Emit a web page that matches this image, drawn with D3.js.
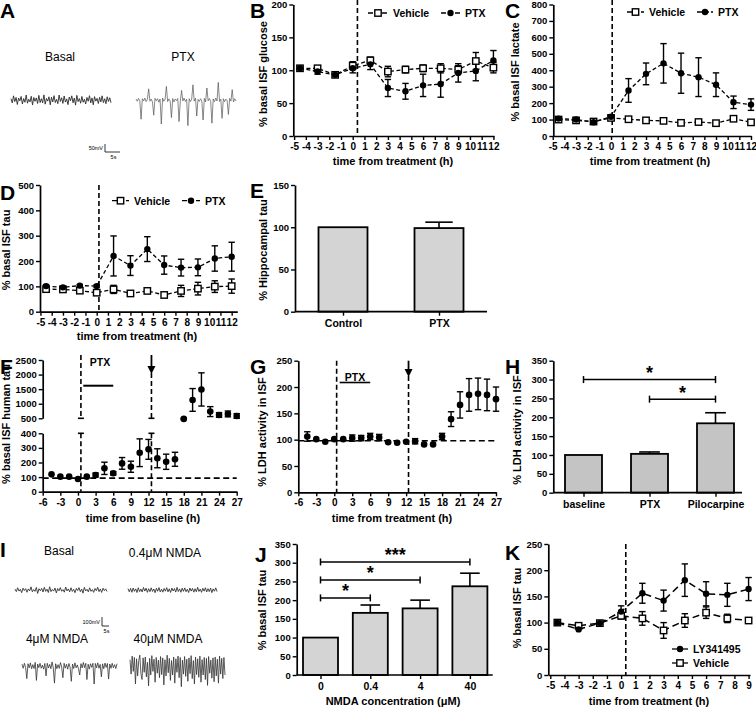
<!DOCTYPE html>
<html><head><meta charset="utf-8">
<script src="https://cdn.jsdelivr.net/npm/d3@7"></script>
<style>
body{margin:0;background:#fff;}
svg{display:block;}
</style></head><body>
<script>
// ================= DATA =================
// Panel A traces (mV)
const traceBasalA = [8,-18,26,-10,16,-28,12,-5,22,-25,9,-14,31,-20,5,-12,23,-31,16,-8,13,-22,29,-16,8,-18,32,-26,10,-7,20,-30,17,-12,27,-16,4,-23,31,-9,14,-21,25,-13,7,-29,18,-5,26,-17,12,-32,29,-10,9,-20,22,-14,5,-25,16,-8,27,-18,13,-30,21,-7,10,-22,17,-12,26,-16,8,-23,20,-9,14,-17];
const tracePTXA = [6,-8,10,-4,-120,8,-6,12,-10,4,70,-8,6,-12,-95,10,-5,8,-14,6,-150,12,-8,5,85,-10,7,-6,-110,9,-12,6,-4,10,-135,-8,60,-6,12,-9,5,-160,8,-10,6,95,-7,11,-100,4,-9,8,-6,-125,10,-12,75,-5,9,-8,-145,7,-10,12,-6,110,-9,5,-115,8,-11,6,-4,-90,10,-7,65,-12,8,-6];
// Panel I traces (mV)
const traceBasalI = [10,-18,25,-12,8,-30,20,-6,15,-25,12,-10,35,-20,5,-15,28,-38,14,-8,18,-22,30,-15,9,-28,36,-18,6,-12,22,-32,16,-9,27,-14,4,-24,33,-10,12,-20,25,-16,7,-30,18,-6,26,-19,10,-35,29,-11,8,-21,24,-15,5,-26,17,-8,31,-18,11,-27,20,-7,13,-16];
const trace04I = [15,-20,18,-25,22,-15,12,-28,25,-18,10,-22,28,-12,20,-26,14,-19,24,-16,11,-30,19,-14,27,-21,9,-24,17,-13,26,-20,13,-27,21,-11,16,-23,29,-17,12,-25,20,-15,23,-19,8,-28,22,-12,18,-24,14,-20,30,-16,10,-26,19,-13,25,-22,15,-18,21,-29,12,-14,24,-17];
const trace4I = [20,-25,30,-15,-140,25,-20,35,-30,15,-28,40,-160,22,-18,30,-25,10,-35,28,-110,30,-22,18,-30,45,-20,-190,25,-30,15,-26,38,-12,-130,30,-24,20,-35,28,-15,-170,22,-28,35,-20,12,-30,-100,26,-22,40,-18,30,-150,20,-34,25,-15,30,-200,28,-20,35,-25,18,-120,24,-30,32,-16,28,-145,22,-26,30,-20,15,-28,25];
const trace40I = [70,-90,110,-60,95,-200,80,-110,60,120,-85,-150,90,-70,100,-120,40,-220,85,-100,115,-60,75,-180,95,-80,65,-130,105,-95,90,-210,70,-110,120,-75,85,-160,60,-100,100,-190,80,-70,110,-130,95,-230,65,-90,105,-115,75,-170,90,-85,115,-140,60,-200,100,-95,80,-125,110,-180,70,-100,95,-150,85,-215,105,-80,65,-135,90,-175,100,-110,75,-190,110,-90,85,-140,95,-100];

// Panels B, C, D (time from treatment, h)
const timeBCD = [-4.5,-3,-1.5,0,1.5,3,4.5,6,7.5,9,10.5,12];
const hourTicks12 = [-5,-4,-3,-2,-1,0,1,2,3,4,5,6,7,8,9,10,11,12];
const glucoseVehicle    = [103,103,93,107,115,98,101,103,103,101,114,104];
const glucoseVehicleErr = [0,0,0,6,5,8,5,5,7,6,13,8];
const glucosePTX        = [103,98,93,103,109,73,68,77,79,96,99,115];
const glucosePTXErr     = [0,4,0,7,8,13,12,17,20,14,15,15];
const glucoseTicks = [0,50,100,150,200];
const lactateVehicle    = [100,95,88,110,102,95,92,80,85,78,105,83];
const lactateVehicleErr = [0,0,0,10,8,6,6,6,6,6,10,8];
const lactatePTX        = [106,100,84,117,277,378,442,382,358,312,205,191];
const lactatePTXErr     = [0,0,0,10,72,66,120,122,118,72,38,35];
const lactateTicks = [0,100,200,300,400,500,600,700,800];
const tauVehicle    = [89,88,83,75,88,72,82,66,82,91,99,101];
const tauVehicleErr = [6,6,6,10,16,10,5,10,22,25,23,28];
const tauPTX        = [101,96,103,101,220,182,247,184,174,175,210,217];
const tauPTXErr     = [6,5,4,5,79,39,49,36,33,33,50,57];
const tauTicks = [0,100,200,300,400,500];

// Panel E
const hippoCategories = ["Control","PTX"];
const hippoTau = [100,99];
const hippoTauErr = [0,7];
const hippoTicks = [0,50,100,150];

// Panels F, G (time, h)
const timeFG = [-4.5,-3,-1.5,0,1.5,3,4.5,6,7.5,9,10.5,12,13.5,15,16.5,18,19.5,21,22.5,24,25.5,27];
const hourTicks27 = [-6,-3,0,3,6,9,12,15,18,21,24,27];
const humanTau    = [119,103,103,87,103,114,160,126,194,171,267,290,229,205,222,480,1130,1490,730,615,650,580];
const humanTauErr = [0,0,0,0,0,14,42,12,40,38,95,68,65,52,48,20,390,570,170,80,100,80];
const humanTauTicksLow = [0,100,200,300,400];
const humanTauTicksHigh = [500,1000,1500,2000,2500];
const ldhTime    = [106,101,96,101,101,103,103,106,104,95,94,96,97,91,91,106,139,166,185,187,185,177];
const ldhTimeErr = [9,0,0,0,0,6,5,6,6,0,0,0,5,0,0,6,14,25,31,30,30,23];
const ldhTicks = [0,50,100,150,200,250];
const ptxPeriod = [0.9,6];

// Panel H
const ldhCategories = ["baseline","PTX","Pilocarpine"];
const ldhMeans = [100,103,184];
const ldhErr = [0,5,28];
const ldhBarTicks = [0,50,100,150,200,250,300,350];
const hSigFrom = ["baseline","PTX"];
const hSigTo = ["Pilocarpine","Pilocarpine"];
const hSigLevel = [300,248];
const hSigLabel = ["*","*"];

// Panel J
const nmdaCategories = ["0","0.4","4","40"];
const nmdaTau = [100,166,178,237];
const nmdaErr = [0,21,22,35];
const nmdaTicks = [0,50,100,150,200,250,300,350];
const jSigFrom = ["0","0","0"];
const jSigTo = ["40","4","0.4"];
const jSigLevel = [302,254,206];
const jSigLabel = ["***","*","*"];

// Panel K
const timeK = [-4.5,-3,-1.5,0,1.5,3,4.5,6,7.5,9];
const hourTicks9 = [-5,-4,-3,-2,-1,0,1,2,3,4,5,6,7,8,9];
const lyTau    = [100,87,99,121,156,142,181,155,153,164];
const lyTauErr = [0,0,0,11,19,20,31,23,22,22];
const vehTauK    = [100,94,99,113,108,85,104,119,108,104];
const vehTauKErr = [0,0,0,6,13,15,13,11,8,5];
const kTicks = [0,50,100,150,200,250];

// ================= DRAWING =================
const FONT = '"Liberation Sans", Arial, Helvetica, sans-serif';
const svg = d3.select("body").append("svg").attr("width",756).attr("height",707)
  .attr("font-family",FONT);

function txt(x,y,s,size,opt={}){
  const t = svg.append("text").attr("x",x).attr("y",y).text(s)
    .attr("font-size",size).attr("font-weight",opt.weight||"bold")
    .attr("text-anchor",opt.anchor||"start").attr("fill","#000");
  if(opt.rotate) t.attr("transform",`rotate(-90,${x},${y})`);
  if(opt.dy) t.attr("dy",opt.dy);
  return t;
}
function letter(x,y,s){ txt(x,y,s,21); }
function yTitle(x,y,s){ txt(x,y,s,11,{anchor:"middle",rotate:true,dy:"0.35em"}); }
function xTitle(x,y,s){ txt(x,y,s,11,{anchor:"middle"}); }

function styleAxis(g,size){
  g.attr("font-family",FONT).attr("font-size",size||10).attr("font-weight","bold");
  g.select(".domain").attr("stroke","#000").attr("stroke-width",1.7);
  g.selectAll(".tick line").attr("stroke","#000").attr("stroke-width",1.4);
  g.selectAll(".tick text").attr("fill","#000");
}
function axisL(x,scale,ticks){
  const g = svg.append("g").attr("transform",`translate(${x},0)`)
    .call(d3.axisLeft(scale).tickValues(ticks).tickSize(4).tickPadding(2).tickSizeOuter(0).tickFormat(d=>String(d)));
  styleAxis(g,9.5); return g;
}
function axisB(y,scale,ticks){
  const g = svg.append("g").attr("transform",`translate(0,${y})`)
    .call(d3.axisBottom(scale).tickValues(ticks).tickSize(4).tickPadding(3).tickSizeOuter(0).tickFormat(d=>String(d)));
  styleAxis(g,10); return g;
}
function axisCat(y,scale,x0,x1){
  const g = svg.append("g").attr("transform",`translate(0,${y})`)
    .call(d3.axisBottom(scale).tickSize(4).tickPadding(4).tickSizeOuter(0));
  styleAxis(g,10.5);
  g.select(".domain").remove();
  g.append("line").attr("x1",x0).attr("x2",x1).attr("stroke","#000").attr("stroke-width",1.7);
  return g;
}
function hline(x0,x1,y,dash,w){
  return svg.append("line").attr("x1",x0).attr("x2",x1).attr("y1",y).attr("y2",y)
    .attr("stroke","#000").attr("stroke-width",w||1.6).attr("stroke-dasharray",dash||null);
}
function vline(x,y0,y1,dash,w){
  return svg.append("line").attr("x1",x).attr("x2",x).attr("y1",y0).attr("y2",y1)
    .attr("stroke","#000").attr("stroke-width",w||1.6).attr("stroke-dasharray",dash||null);
}
function arrowDown(x,y0,y1){
  vline(x,y0,y1-7,null,1.8);
  svg.append("path").attr("d",`M${x-4},${y1-8} L${x+4},${y1-8} L${x},${y1} Z`).attr("fill","#000");
}
function markers(g,data,xS,yS,type,r){
  if(type==="dot"){
    g.append("g").selectAll("circle").data(data).join("circle")
      .attr("cx",d=>xS(d.x)).attr("cy",d=>yS(d.v)).attr("r",r||3.2).attr("fill","#000");
  } else {
    const s = (r||3.2);
    g.append("g").selectAll("rect").data(data).join("rect")
      .attr("x",d=>xS(d.x)-s).attr("y",d=>yS(d.v)-s).attr("width",2*s).attr("height",2*s)
      .attr("fill","#fff").attr("stroke","#000").attr("stroke-width",1.4);
  }
}
function errorBars(g,data,xS,yS,cap){
  const d2 = data.filter(d=>d.e>0);
  const eg = g.append("g").attr("stroke","#000").attr("stroke-width",1.4);
  eg.append("g").selectAll("line").data(d2).join("line")
    .attr("x1",d=>xS(d.x)).attr("x2",d=>xS(d.x)).attr("y1",d=>yS(d.v-d.e)).attr("y2",d=>yS(d.v+d.e));
  eg.append("g").selectAll("line").data(d2).join("line")
    .attr("x1",d=>xS(d.x)-cap).attr("x2",d=>xS(d.x)+cap).attr("y1",d=>yS(d.v+d.e)).attr("y2",d=>yS(d.v+d.e));
  eg.append("g").selectAll("line").data(d2).join("line")
    .attr("x1",d=>xS(d.x)-cap).attr("x2",d=>xS(d.x)+cap).attr("y1",d=>yS(d.v-d.e)).attr("y2",d=>yS(d.v-d.e));
}
function timeSeries(xS,yS,t,list,opt={}){
  const g = svg.append("g");
  const sets = list.map(s=>t.map((x,i)=>({x, v:s.v[i], e:s.e[i]})));
  list.forEach((s,k)=>{
    if(s.dash!==undefined){
      g.append("path").datum(sets[k]).attr("d",d3.line().x(d=>xS(d.x)).y(d=>yS(d.v)))
        .attr("fill","none").attr("stroke","#000").attr("stroke-width",opt.lw||1.3).attr("stroke-dasharray",s.dash);
    }
  });
  list.forEach((s,k)=>errorBars(g,sets[k],xS,yS,opt.cap||3.2));
  list.forEach((s,k)=>markers(g,sets[k],xS,yS,s.type,opt.r));
}
function legendItem(x0,x1,y,type,label,dash){
  hline(x0,x1,y,dash,1.3);
  const g = svg.append("g");
  markers(g,[{x:(x0+x1)/2,v:y}],d=>d,d=>d,type);
  txt(x1+5,y+3.8,label,10.5);
}
function trace(vals,x0,x1,yc,mvPerPx,color,w){
  const xs = d3.scaleLinear().domain([0,vals.length-1]).range([x0,x1]);
  const ys = d3.scaleLinear().domain([-mvPerPx,mvPerPx]).range([yc+1,yc-1]);
  svg.append("path").datum(vals).attr("d",d3.line().x((d,i)=>xs(i)).y(d=>ys(d)))
    .attr("fill","none").attr("stroke",color).attr("stroke-width",w||0.9).attr("stroke-linejoin","miter");
}
function scaleBar(x,y,hpx,wpx,vLabel,tLabel){
  svg.append("path").attr("d",`M${x},${y-hpx} L${x},${y} L${x+wpx},${y}`).attr("fill","none").attr("stroke","#000").attr("stroke-width",0.8);
  txt(x-2,y-hpx/2+2,vLabel,5.5,{weight:"normal",anchor:"end"});
  txt(x+wpx/2+1,y+7,tLabel,5.5,{weight:"normal",anchor:"middle"});
}
function bars(xS,yS,cats,vals,errs,bw,fill){
  const g = svg.append("g");
  const data = cats.map((c,i)=>({c,v:vals[i],e:errs[i]}));
  g.append("g").selectAll("line").data(data.filter(d=>d.e>0)).join("line")
    .attr("x1",d=>xS(d.c)).attr("x2",d=>xS(d.c)).attr("y1",d=>yS(d.v)).attr("y2",d=>yS(d.v+d.e))
    .attr("stroke","#000").attr("stroke-width",1.6);
  g.append("g").selectAll("line").data(data.filter(d=>d.e>0)).join("line")
    .attr("x1",d=>xS(d.c)-bw*0.28).attr("x2",d=>xS(d.c)+bw*0.28).attr("y1",d=>yS(d.v+d.e)).attr("y2",d=>yS(d.v+d.e))
    .attr("stroke","#000").attr("stroke-width",1.6);
  g.append("g").selectAll("rect").data(data).join("rect")
    .attr("x",d=>xS(d.c)-bw/2).attr("width",bw).attr("y",d=>yS(d.v)).attr("height",d=>yS(0)-yS(d.v))
    .attr("fill",fill).attr("stroke","#000").attr("stroke-width",1.8);
}
function sigBrackets(xS,yS,from,to,level,label,starSize){
  level.forEach((lv,i)=>{
    const x0 = xS(from[i]), x1 = xS(to[i]), y = yS(lv);
    hline(x0,x1,y,null,1.5);
    vline(x0,y-3.5,y+3.5,null,1.5);
    vline(x1,y-3.5,y+3.5,null,1.5);
    txt((x0+x1)/2,y-0.5,label[i],starSize,{anchor:"middle"});
  });
}

// ---------- Panel A
letter(0,18,"A");
txt(60,61,"Basal",12,{weight:"normal",anchor:"middle"});
txt(183,61,"PTX",12,{weight:"normal",anchor:"middle"});
trace(traceBasalA,11,111,100,6.25,"#2a2a2a",0.9);
trace(tracePTXA,136,236,100,6.25,"#555",0.7);
scaleBar(105,152,8,15,"50mV","5s");

// ---------- Panel B
{
  const x = d3.scaleLinear().domain([-5.07,12.05]).range([293.3,494]);
  const y = d3.scaleLinear().domain([0,200]).range([136,4.5]);
  vline(x(0.4),0,136,"5,3",1.6);
  timeSeries(x,y,timeBCD,[
    {v:glucoseVehicle,e:glucoseVehicleErr,type:"square",dash:"4,2.5"},
    {v:glucosePTX,e:glucosePTXErr,type:"dot",dash:"4,2.5"}]);
  axisL(293.3,y,glucoseTicks);
  axisB(136,x,hourTicks12);
  letter(250,18,"B");
  yTitle(263,74,"% basal ISF glucose");
  xTitle(393,165,"time from treatment (h)");
  legendItem(368,388,13,"square","Vehicle","5,2");
  legendItem(441,460,13,"dot","PTX","5,2");
}
// ---------- Panel C
{
  const x = d3.scaleLinear().domain([-4.95,12.0]).range([553.3,751]);
  const y = d3.scaleLinear().domain([0,800]).range([136,4.5]);
  vline(x(0.1),0,136,"5,3",1.6);
  timeSeries(x,y,timeBCD,[
    {v:lactateVehicle,e:lactateVehicleErr,type:"square",dash:"4,2.5"},
    {v:lactatePTX,e:lactatePTXErr,type:"dot",dash:"4,2.5"}]);
  axisL(553.3,y,lactateTicks);
  axisB(136,x,hourTicks12);
  letter(505,18,"C");
  yTitle(515,72,"% basal ISF lactate");
  xTitle(650,165,"time from treatment (h)");
  legendItem(627,644,12,"square","Vehicle","5,2");
  legendItem(697,713,12,"dot","PTX","5,2");
}
// ---------- Panel D
{
  const x = d3.scaleLinear().domain([-5.04,12.5]).range([40,237.3]);
  const y = d3.scaleLinear().domain([0,500]).range([311.7,185]);
  vline(x(0.2),185,311.7,"5,3",1.6);
  timeSeries(x,y,timeBCD,[
    {v:tauVehicle,e:tauVehicleErr,type:"square",dash:"4,2.5"},
    {v:tauPTX,e:tauPTXErr,type:"dot",dash:"4,2.5"}]);
  axisL(40,y,tauTicks);
  axisB(311.7,x,hourTicks12);
  letter(0,200,"D");
  yTitle(6,250,"% basal ISF tau");
  xTitle(137,340,"time from treatment (h)");
  legendItem(112,129,200.7,"square","Vehicle","5,2");
  legendItem(182,200,200.7,"dot","PTX","5,2");
}
// ---------- Panel E
{
  const x = d3.scalePoint().domain(hippoCategories).range([295,487]).padding(0.5);
  const y = d3.scaleLinear().domain([0,150]).range([311.7,185]);
  bars(x,y,hippoCategories,hippoTau,hippoTauErr,49,"#d4d4d4");
  axisL(295,y,hippoTicks);
  axisCat(311.7,x,295,487);
  letter(250,198,"E");
  yTitle(263,250,"% Hippocampal tau");
}
// ---------- Panel F (broken axis)
{
  const x = d3.scaleLinear().domain([-6,27]).range([42.7,236.7]);
  const yLow = d3.scaleLinear().domain([0,400]).range([491.7,433.3]);
  const yHigh = d3.scaleLinear().domain([500,2500]).range([418.3,360]);
  const y = v => v < 450 ? yLow(v) : yHigh(v);
  hline(x(-6),x(27),yLow(93),"6,3.5",1.6);
  [0.5,12.5].forEach((t,i)=>{
    const top = i===0 ? 355 : 373;
    vline(x(t),top,418.3,"5,3",1.6);
    vline(x(t),433.3,491.7,"5,3",1.6);
    hline(x(t)-3,x(t)+3,418.3,null,1.6);
    hline(x(t)-3,x(t)+3,433.3,null,1.6);
  });
  arrowDown(x(12.5),355,374);
  txt(100,366,"PTX",10.5,{anchor:"middle"});
  hline(x(ptxPeriod[0]),x(ptxPeriod[1]),385.7,null,2);
  timeSeries(x,y,timeFG,[{v:humanTau,e:humanTauErr,type:"dot"}],{r:3.3});
  axisL(42.7,yLow,humanTauTicksLow);
  axisL(42.7,yHigh,humanTauTicksHigh);
  axisB(491.7,x,hourTicks27);
  letter(0,374,"F");
  yTitle(6,424,"% basal ISF human tau");
  xTitle(143,522,"time from baseline (h)");
}
// ---------- Panel G
{
  const x = d3.scaleLinear().domain([-6,27]).range([298.3,496]);
  const y = d3.scaleLinear().domain([0,250]).range([492.3,360.7]);
  hline(x(-6),x(27),y(98),"6,3.5",1.6);
  vline(x(0.4),360.7,492.3,"5,3",1.6);
  vline(x(12.4),376,492.3,"5,3",1.6);
  arrowDown(x(12.4),360.7,377);
  txt(355,380.5,"PTX",10.5,{anchor:"middle"});
  hline(x(ptxPeriod[0]),x(ptxPeriod[1]),382.5,null,1.6);
  timeSeries(x,y,timeFG,[{v:ldhTime,e:ldhTimeErr,type:"dot"}],{r:3.3});
  axisL(298.3,y,ldhTicks);
  axisB(492.3,x,hourTicks27);
  letter(250,374,"G");
  yTitle(262,432,"% LDH activity in ISF");
  xTitle(392,522,"time from treatment (h)");
}
// ---------- Panel H
{
  const x = d3.scalePoint().domain(ldhCategories).range([550.5,748.5]).padding(0.5);
  const y = d3.scaleLinear().domain([0,350]).range([492.7,360.7]);
  bars(x,y,ldhCategories,ldhMeans,ldhErr,37,"#c4c4c4");
  axisL(553.3,y,ldhBarTicks);
  axisCat(492.7,x,553.3,742);
  sigBrackets(x,y,hSigFrom,hSigTo,hSigLevel,hSigLabel,18);
  letter(505,374,"H");
  yTitle(517,430,"% LDH activity in ISF");
}
// ---------- Panel I
letter(0,557,"I");
txt(59,555,"Basal",12,{weight:"normal",anchor:"middle"});
txt(165,557,"0.4μM NMDA",12,{weight:"normal",anchor:"middle"});
txt(57,643,"4μM NMDA",12,{weight:"normal",anchor:"middle"});
txt(168,643,"40μM NMDA",12,{weight:"normal",anchor:"middle"});
trace(traceBasalI,15,107,590,11.1,"#333",0.9);
trace(trace04I,128,217,590,11.1,"#333",0.9);
trace(trace4I,22,117,666,11.1,"#333",0.8);
trace(trace40I,130,225,666,11.1,"#333",0.8);
scaleBar(102,626,9,7,"100mV","5s");

// ---------- Panel J
{
  const x = d3.scalePoint().domain(nmdaCategories).range([295.6,494.8]).padding(0.5);
  const y = d3.scaleLinear().domain([0,350]).range([675,544]);
  bars(x,y,nmdaCategories,nmdaTau,nmdaErr,35,"#d4d4d4");
  axisL(296.7,y,nmdaTicks);
  axisCat(675,x,296.7,492.7);
  sigBrackets(x,y,jSigFrom,jSigTo,jSigLevel,jSigLabel,18);
  letter(255,562,"J");
  yTitle(262,610,"% basal ISF tau");
  xTitle(393,705,"NMDA concentration (μM)");
}
// ---------- Panel K
{
  const x = d3.scaleLinear().domain([-5.14,9.1]).range([548.3,750]);
  const y = d3.scaleLinear().domain([0,250]).range([675,544]);
  vline(x(0.33),544,675,"5,3",1.6);
  timeSeries(x,y,timeK,[
    {v:vehTauK,e:vehTauKErr,type:"square",dash:"7,4"},
    {v:lyTau,e:lyTauErr,type:"dot",dash:"7,4"}],{lw:1.5});
  axisL(548.3,y,kTicks);
  axisB(675,x,hourTicks9);
  letter(505,560,"K");
  yTitle(517,608,"% basal ISF tau");
  xTitle(649,705,"time from treatment (h)");
  legendItem(672,688,649,"dot","LY341495");
  legendItem(672,688,663,"square","Vehicle");
}
</script>
</body></html>
